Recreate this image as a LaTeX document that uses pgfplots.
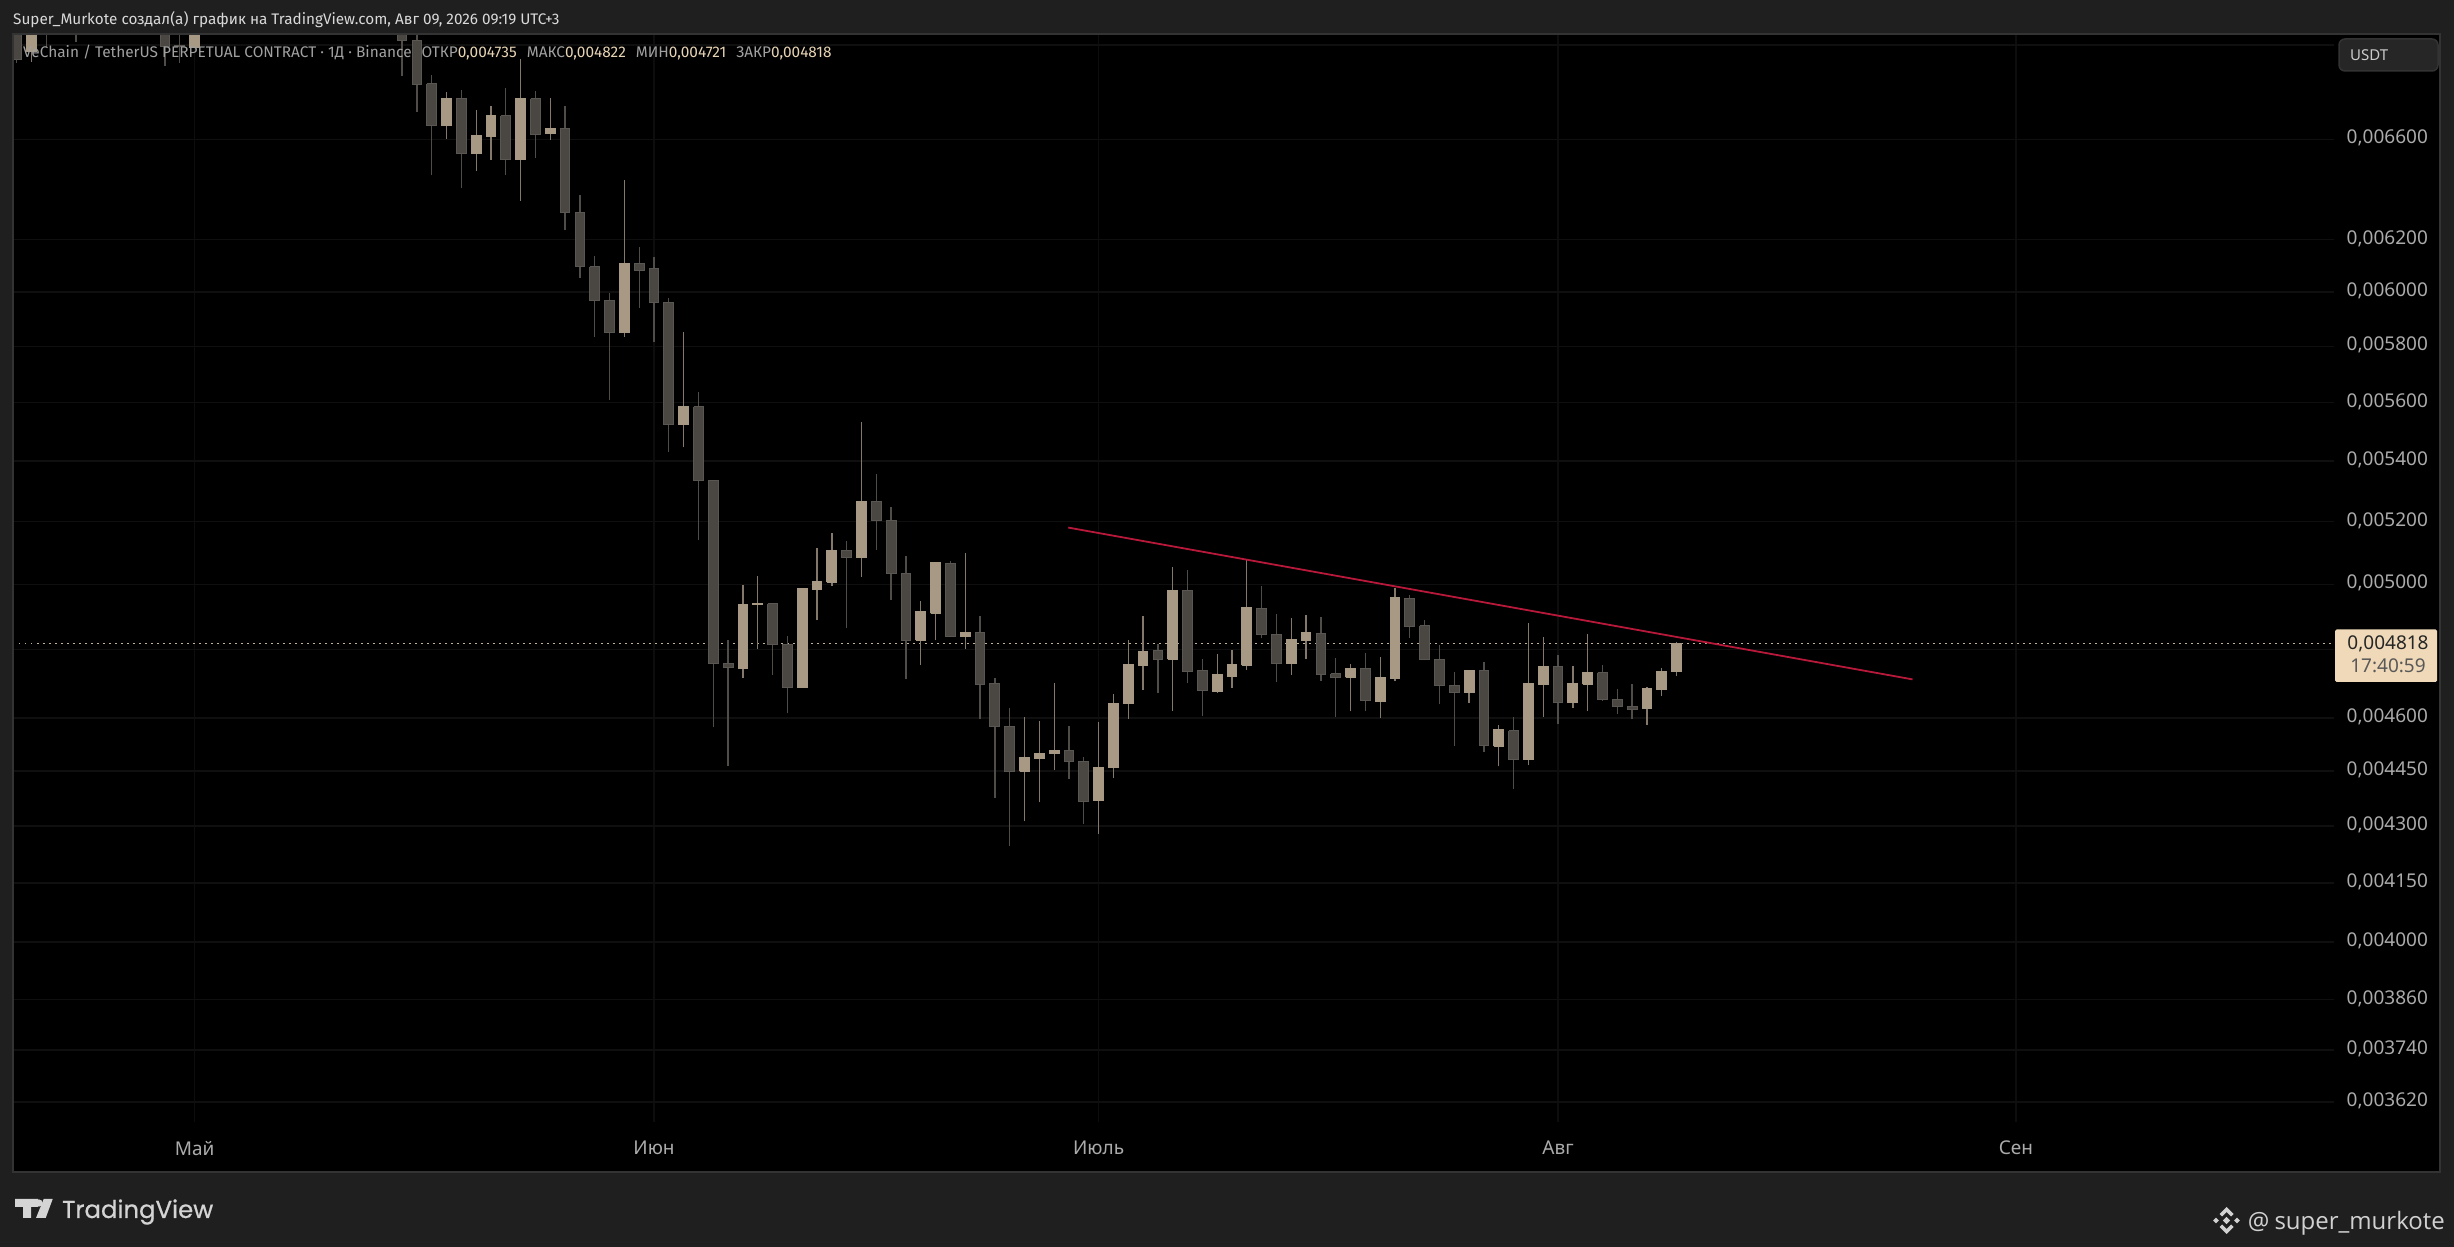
\documentclass[border=0pt]{standalone}
\usepackage{fontspec}
\usepackage{pgfplots}
\usepackage{pgfplotstable}
\pgfplotsset{compat=1.18}
\newfontfamily\headf{Fira Sans}
\newfontfamily\tickf{Noto Sans}
\newfontfamily\logof{Poppins}[FakeBold=0.7]
\newfontfamily\wmf{Open Sans}
\definecolor{pagebg}{HTML}{1F1F1F}
\definecolor{framec}{HTML}{333333}
\definecolor{upfill}{HTML}{A89985}
\definecolor{upwick}{HTML}{83786A}
\definecolor{dnfill}{HTML}{4A4743}
\definecolor{dnedge}{HTML}{5A5753}
\definecolor{dnwick}{HTML}{504D49}
\definecolor{gridx}{HTML}{0D0D0D}
\definecolor{gridy}{HTML}{0F0F0F}
\definecolor{ticktxt}{HTML}{ABABAB}
\definecolor{legtxt}{HTML}{A0A0A0}
\definecolor{legval}{HTML}{E6D3B3}
\definecolor{trend}{HTML}{B8183A}
\definecolor{lastlab}{HTML}{F0D9B8}

% d = days since 1 May; open high low close
\pgfplotstableread{
d o h l c
-12 0.007100 0.007120 0.006923 0.006936
-10 0.007100 0.007120 0.006993 0.007060
-8 0.007100 0.007120 0.007014 0.007060
-2 0.007100 0.007120 0.006911 0.006993
-1 0.006998 0.007100 0.006924 0.006994
14 0.007100 0.007120 0.006867 0.007019
15 0.007022 0.007100 0.006715 0.006829
16 0.006833 0.006871 0.006453 0.006657
18 0.006768 0.006807 0.006404 0.006541
21 0.006697 0.006815 0.006455 0.006516
23 0.006768 0.006802 0.006521 0.006620
25 0.006646 0.006739 0.006235 0.006305
26 0.006307 0.006375 0.006054 0.006097
27 0.006096 0.006137 0.005835 0.005968
28 0.005970 0.005998 0.005611 0.005851
30 0.006107 0.006172 0.005941 0.006082
31 0.006088 0.006133 0.005816 0.005961
32 0.005961 0.005976 0.005431 0.005524
34 0.005585 0.005638 0.005141 0.005334
35 0.005336 0.005336 0.004573 0.004759
36 0.004760 0.004830 0.004463 0.004747
39 0.004939 0.004943 0.004726 0.004817
40 0.004817 0.004842 0.004613 0.004688
44 0.005108 0.005137 0.004867 0.005084
46 0.005264 0.005357 0.005109 0.005203
47 0.005204 0.005247 0.004952 0.005034
48 0.005035 0.005089 0.004712 0.004828
51 0.005066 0.005073 0.004840 0.004840
53 0.004853 0.004903 0.004596 0.004697
54 0.004701 0.004716 0.004377 0.004576
55 0.004577 0.004629 0.004248 0.004449
59 0.004508 0.004578 0.004427 0.004477
60 0.004478 0.004490 0.004305 0.004366
65 0.004797 0.004817 0.004673 0.004771
67 0.004982 0.005044 0.004700 0.004735
68 0.004737 0.004772 0.004607 0.004679
72 0.004926 0.004995 0.004834 0.004846
73 0.004847 0.004909 0.004703 0.004759
76 0.004850 0.004900 0.004706 0.004727
77 0.004728 0.004776 0.004604 0.004718
79 0.004743 0.004790 0.004619 0.004650
82 0.004957 0.004967 0.004834 0.004870
83 0.004872 0.004891 0.004768 0.004771
84 0.004772 0.004815 0.004639 0.004694
85 0.004695 0.004734 0.004521 0.004674
87 0.004737 0.004763 0.004504 0.004521
89 0.004563 0.004604 0.004402 0.004482
92 0.004749 0.004785 0.004584 0.004644
95 0.004732 0.004755 0.004650 0.004653
96 0.004654 0.004684 0.004610 0.004633
97 0.004634 0.004699 0.004596 0.004624
}\downcandles
\pgfplotstableread{
d o h l c
-11 0.006970 0.007120 0.006927 0.007100
0 0.006987 0.007120 0.006987 0.007100
17 0.006657 0.006798 0.006603 0.006768
19 0.006541 0.006722 0.006469 0.006614
20 0.006611 0.006739 0.006516 0.006697
22 0.006516 0.006940 0.006352 0.006768
24 0.006624 0.006772 0.006598 0.006643
29 0.005851 0.006435 0.005833 0.006107
33 0.005524 0.005853 0.005446 0.005585
37 0.004744 0.004999 0.004715 0.004936
38 0.004937 0.005027 0.004803 0.004939
41 0.004688 0.004989 0.004688 0.004986
42 0.004983 0.005114 0.004889 0.005008
43 0.005006 0.005162 0.004996 0.005108
45 0.005084 0.005534 0.005024 0.005264
49 0.004828 0.004948 0.004753 0.004915
50 0.004910 0.005067 0.004828 0.005067
52 0.004839 0.005099 0.004803 0.004851
56 0.004449 0.004603 0.004313 0.004489
57 0.004485 0.004592 0.004364 0.004500
58 0.004499 0.004702 0.004454 0.004509
61 0.004369 0.004589 0.004280 0.004461
62 0.004459 0.004670 0.004430 0.004643
63 0.004641 0.004830 0.004598 0.004755
64 0.004753 0.004903 0.004682 0.004794
66 0.004771 0.005055 0.004621 0.004980
69 0.004678 0.004788 0.004673 0.004726
70 0.004721 0.004799 0.004688 0.004755
71 0.004753 0.005075 0.004741 0.004927
74 0.004759 0.004897 0.004726 0.004830
75 0.004828 0.004906 0.004771 0.004851
78 0.004718 0.004758 0.004619 0.004743
80 0.004647 0.004779 0.004601 0.004717
81 0.004715 0.004989 0.004706 0.004958
86 0.004674 0.004738 0.004644 0.004738
88 0.004520 0.004580 0.004463 0.004566
90 0.004481 0.004882 0.004466 0.004699
91 0.004697 0.004839 0.004604 0.004749
93 0.004644 0.004752 0.004630 0.004699
94 0.004697 0.004848 0.004621 0.004732
98 0.004626 0.004690 0.004581 0.004685
99 0.004682 0.004746 0.004664 0.004735
100 0.004735 0.004822 0.004721 0.004818
}\upcandles

\newcommand\drawcandles[5]{%
  \pgfplotstablegetrowsof{#1}%
  \pgfmathtruncatemacro\lastrow{\pgfplotsretval-1}%
  \foreach \i in {0,...,\lastrow}{%
    \pgfplotstablegetelem{\i}{d}\of{#1}\let\vD\pgfplotsretval
    \pgfplotstablegetelem{\i}{o}\of{#1}\let\vO\pgfplotsretval
    \pgfplotstablegetelem{\i}{h}\of{#1}\let\vH\pgfplotsretval
    \pgfplotstablegetelem{\i}{l}\of{#1}\let\vL\pgfplotsretval
    \pgfplotstablegetelem{\i}{c}\of{#1}\let\vC\pgfplotsretval
    \pgfmathsetmacro\xa{\vD-#5}%
    \pgfmathsetmacro\xb{\vD+#5}%
    \edef\tmp{%
      \noexpand\addplot[forget plot,mark=none,color=#4,line width=1.3pt,line cap=butt] coordinates {(\vD,\vL)(\vD,\vH)};
      \noexpand\addplot[forget plot,mark=none,draw=#3,fill=#2,line width=1pt,line join=miter] coordinates {(\xa,\vO)(\xb,\vO)(\xb,\vC)(\xa,\vC)(\xa,\vO)};
    }\tmp
  }%
}

\begin{document}
\begin{tikzpicture}
\useasboundingbox (0,0) rectangle (2454pt,1247pt);
\fill[pagebg] (0,0) rectangle (2454pt,1247pt);
\fill[black] (13pt,75pt) rectangle (2440pt,1213pt);
\begin{axis}[
  at={(13pt,125pt)},anchor=south west,
  scale only axis,width=2321pt,height=1088pt,
  ymode=log,
  xmin=-12.254,xmax=144.36,
  ymin=0.003575,ymax=0.007048,
  axis line style={draw=none},
  major tick length=0pt,minor tick length=0pt,
  tick style={draw=none},
  yminorticks=false,
  axis y line*=right,
  xtick={0,31,61,92,122.9},
  xticklabels={Май,Июн,Июль,Авг,Сен},
  ytick={0.0070,0.0066,0.0062,0.0060,0.0058,0.0056,0.0054,0.0052,0.0050,0.0048,0.0046,0.00445,0.0043,0.00415,0.0040,0.00386,0.00374,0.00362},
  yticklabels={{},{0,006600},{0,006200},{0,006000},{0,005800},{0,005600},{0,005400},{0,005200},{0,005000},{},{0,004600},{0,004450},{0,004300},{0,004150},{0,004000},{0,003860},{0,003740},{0,003620}},
  xmajorgrids,ymajorgrids,
  x grid style={color=gridx,line width=1.5pt},
  y grid style={color=gridy,line width=1.5pt},
  yticklabel style={font=\tickf\fontsize{19}{19}\selectfont,color=ticktxt,anchor=west,inner sep=0pt,xshift=12.5pt,yshift=1pt},
  xticklabel style={font=\tickf\fontsize{19}{19}\selectfont,color=ticktxt,anchor=center,inner sep=0pt,yshift=-26pt},
  clip=true,
]
\addplot[forget plot,mark=none,color=legval!85!black,line width=1.5pt,dash pattern=on 1.5pt off 4.5pt]
  coordinates {(-12.254,0.004818)(144.36,0.004818)};
\drawcandles{\downcandles}{dnfill}{dnedge}{dnwick}{0.33}
\drawcandles{\upcandles}{upfill}{upfill}{upwick}{0.33}
\addplot[forget plot,mark=none,color=trend,line width=1.8pt]
  coordinates {(58.95,0.005180)(115.92,0.004712)};
\end{axis}
\begin{scope}[shift={(0,1247pt)},x=1pt,y=-1pt]
  \draw[framec,line width=2pt] (13,34) rectangle (2440,1172);
  % header
  \node[anchor=base west,inner sep=0pt,text=white!85!black,font=\headf\fontsize{15.3}{15.3}\selectfont] at (13,25)
    {Super\_Murkote создал(а) график на TradingView.com, Авг 09, 2026 09:19 UTC+3};
  \node[anchor=base west,inner sep=0pt,text=legtxt,font=\headf\fontsize{15.4}{15.4}\selectfont] at (23,58)
    {VeChain / TetherUS PERPETUAL CONTRACT · 1Д · Binance\hspace{10pt}ОТКР\textcolor{legval}{0,004735}\hspace{10pt}МАКС\textcolor{legval}{0,004822}\hspace{10pt}МИН\textcolor{legval}{0,004721}\hspace{10pt}ЗАКР\textcolor{legval}{0,004818}};
  % currency button
  \draw[framec,fill=black!85!white,rounded corners=6pt,line width=1.5pt] (2339,39) rectangle (2438,71);
  \node[anchor=west,inner sep=0pt,text=white!80!black,font=\tickf\fontsize{15}{15}\selectfont] at (2350,55) {USDT};
  % last price label
  \fill[lastlab,rounded corners=1.5pt] (2335,629.5) rectangle (2437,682);
  \node[anchor=center,inner sep=0pt,text=black!85!white,font=\tickf\fontsize{19}{19}\selectfont] at (2388,643.5) {0,004818};
  \node[anchor=center,inner sep=0pt,text=black!65!white,font=\tickf\fontsize{19}{19}\selectfont] at (2388,666) {17:40:59};
  % TradingView logo
  \fill[white!83!black] (15,1199) -- (38,1199) -- (38,1207) -- (31,1207) -- (31,1218) -- (23,1218) -- (23,1207) -- (15,1207) -- cycle;
  \fill[white!83!black] (39,1203) circle (3.6);
  \fill[white!83!black] (43.7,1199) -- (52.7,1199) -- (45.7,1218) -- (36,1218) -- cycle;
  \node[anchor=base west,inner sep=0pt,text=white!83!black,font=\logof\fontsize{24.4}{24.4}\selectfont] at (62,1218) {TradingView};
  % watermark
  \begin{scope}[shift={(2226.5,1220.5)},white!82!black]
    \fill (0,-3.6) -- (3.6,0) -- (0,3.6) -- (-3.6,0) -- cycle;
    \fill (-10.5,-2.8) -- (-7.7,0) -- (-10.5,2.8) -- (-13.3,0) -- cycle;
    \fill (10.5,-2.8) -- (13.3,0) -- (10.5,2.8) -- (7.7,0) -- cycle;
    \fill (0,-13.5) -- (7,-6.5) -- (4.5,-4) -- (0,-8.5) -- (-4.5,-4) -- (-7,-6.5) -- cycle;
    \fill (0,13.5) -- (7,6.5) -- (4.5,4) -- (0,8.5) -- (-4.5,4) -- (-7,6.5) -- cycle;
  \end{scope}
  \node[anchor=base east,inner sep=0pt,text=white!82!black,font=\wmf\fontsize{24}{24}\selectfont] at (2445,1230) {@\hspace{5pt}super\_murkote};
\end{scope}
\end{tikzpicture}
\end{document}
